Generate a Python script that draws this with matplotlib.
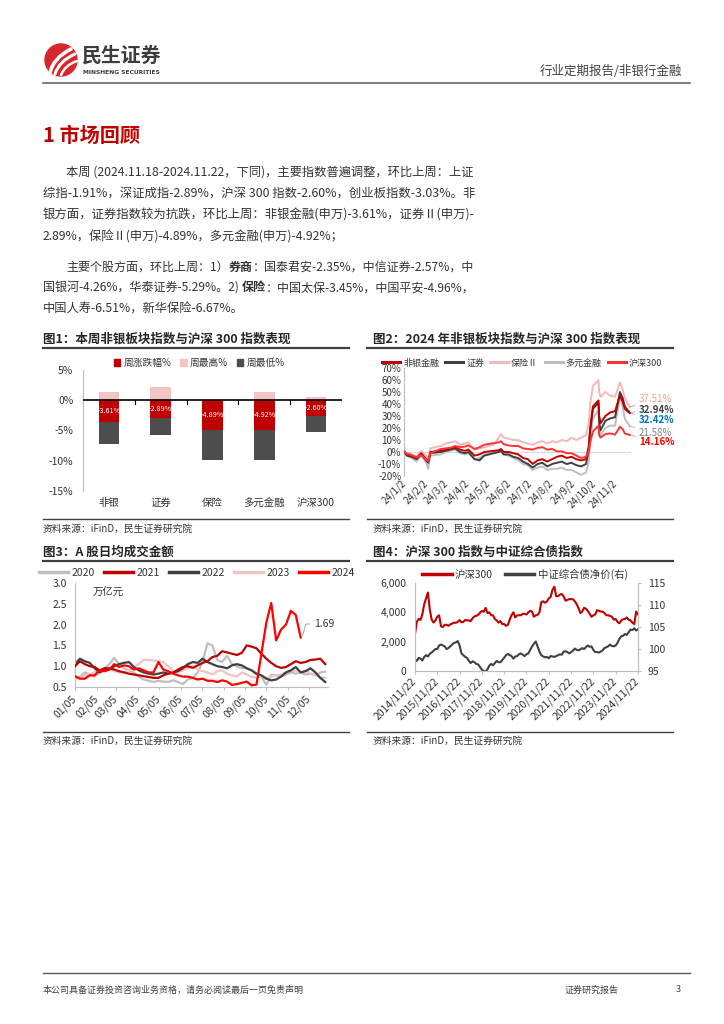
import matplotlib
matplotlib.use('Agg')
import matplotlib.pyplot as plt
from matplotlib.patches import Circle, Rectangle, PathPatch
from matplotlib.path import Path
from matplotlib.lines import Line2D
import pandas as pd
import numpy as np

plt.rcParams['font.family'] = ['Noto Sans CJK SC', 'DejaVu Sans']
plt.rcParams['axes.unicode_minus'] = False

# ---------------- data ----------------
# Chart 1
c1_cats = ['非银', '证券', '保险', '多元金融', '沪深300']
c1_chg = [-3.61, -2.89, -4.89, -4.92, -2.60]
c1_high = [1.3, 2.2, 0.0, 1.3, 0.5]
c1_low = [-7.2, -5.8, -9.8, -9.9, -5.2]
c1_legend = ['周涨跌幅%', '周最高%', '周最低%']

# Chart 2 (cumulative change %, 2024)
c2_dates = ['2024-01-02', '2024-01-05', '2024-01-12', '2024-01-19', '2024-01-26', '2024-02-02',
            '2024-02-05', '2024-02-08', '2024-02-23', '2024-03-01', '2024-03-08', '2024-03-15',
            '2024-03-22', '2024-03-29', '2024-04-03', '2024-04-12', '2024-04-19', '2024-04-26',
            '2024-05-10', '2024-05-17', '2024-05-20', '2024-05-24', '2024-05-31', '2024-06-07',
            '2024-06-14', '2024-06-21', '2024-06-28', '2024-07-05', '2024-07-12', '2024-07-19',
            '2024-07-26', '2024-08-02', '2024-08-09', '2024-08-16', '2024-08-23', '2024-08-30',
            '2024-09-06', '2024-09-13', '2024-09-20', '2024-09-24', '2024-09-26', '2024-09-30',
            '2024-10-08', '2024-10-09', '2024-10-11', '2024-10-18', '2024-10-25', '2024-11-01',
            '2024-11-08', '2024-11-12', '2024-11-15', '2024-11-22']
c2_feiyin = [0, -2, -3, -5, -1, -6, -8, 0, 1, 2, 3, 4, 2, 1, 2, -3, -2, 0, 1, 1.5, 2.5, 0, 0, -1,
             -2, -5, -6, -10, -7, -6, -8, -6, -4, -3, -5, -4, -6, -7, -6, 5, 20, 38, 43, 30, 24, 30,
             33, 34, 47, 42, 36, 32.42]
c2_zhengquan = [0, -3, -4, -6, -2, -7, -9, -1, 0, 1, 2, 3, 0, -1, 0, -6, -7, -3, -1, 0, 1, -2, -2,
                -4, -5, -8, -10, -13, -10, -9, -12, -10, -9, -8, -10, -9, -11, -12, -10, 2, 18, 36,
                41, 25, 18, 26, 28, 29, 50, 45, 38, 32.94]
c2_baoxian = [0, -1, -2, -4, 1, -3, -6, 3, 5, 7, 8, 9, 6, 7, 8, 2, 3, 4, 6, 12, 15, 12, 11, 10, 10,
              8, 7, 6, 8, 9, 7, 9, 8, 10, 9, 12, 10, 12, 14, 25, 40, 55, 60, 50, 46, 50, 47, 46,
              58, 52, 45, 37.51]
c2_duoyuan = [0, -3, -5, -8, -3, -9, -14, -3, -2, 0, 1, 2, -1, -2, -1, -6, -5, -2, 0, 1, 2, -2,
              -3, -5, -7, -10, -11, -15, -13, -12, -15, -14, -14, -13, -15, -15, -17, -19, -17, -8,
              8, 28, 35, 20, 14, 20, 22, 22, 45, 38, 28, 21.58]
c2_hs300 = [0, -1.5, -2.5, -4.5, -2.5, -6.5, -7.5, -1, 2.5, 3, 3.5, 5, 4, 4.5, 5.5, 2.5, 4, 6,
            7.5, 8, 9, 6.5, 5.5, 5, 5, 3, 2.5, 2, 3.5, 4, 2, 2.5, 0.5, 0.5, -1, -1, -3, -5, -4,
            0.5, 8, 17, 22, 14, 12, 15, 15.5, 14.5, 21, 19, 15.5, 14.16]
c2_names = ['非银金融', '证券', '保险Ⅱ', '多元金融', '沪深300']
c2_ticklabels = ['24/1/2', '24/2/2', '24/3/2', '24/4/2', '24/5/2', '24/6/2', '24/7/2', '24/8/2',
                 '24/9/2', '24/10/2', '24/11/2']
c2_tickdates = ['2024-01-02', '2024-02-02', '2024-03-02', '2024-04-02', '2024-05-02', '2024-06-02',
                '2024-07-02', '2024-08-02', '2024-09-02', '2024-10-02', '2024-11-02']

# Chart 3 (weekly avg turnover, trillion yuan)
c3_2020 = [0.68, 0.75, 0.85, 0.80, 0.75, 0.85, 0.95, 1.05, 1.20, 1.05, 0.95, 0.90, 0.85, 0.75,
           0.68, 0.65, 0.62, 0.65, 0.63, 0.62, 0.66, 0.62, 0.57, 0.68, 0.72, 0.85, 1.10, 1.55,
           1.50, 1.15, 1.10, 1.25, 1.05, 1.00, 0.95, 0.95, 0.90, 0.80, 0.75, 0.55, 0.80, 0.78,
           0.75, 0.80, 0.85, 0.82, 0.85, 0.80, 0.82, 0.78, 0.85, 0.87]
c3_2021 = [1.00, 1.12, 1.05, 1.00, 0.98, 0.90, 0.95, 0.95, 0.92, 0.88, 0.85, 0.82, 0.80, 0.78,
           0.76, 0.74, 0.72, 0.72, 0.78, 0.82, 0.84, 0.92, 0.98, 1.00, 0.96, 1.02, 1.08, 1.12,
           1.22, 1.25, 1.36, 1.33, 1.30, 1.27, 1.32, 1.50, 1.47, 1.43, 1.30, 1.18, 1.08, 1.00,
           0.96, 0.98, 1.05, 1.12, 1.08, 1.10, 1.15, 1.16, 1.18, 1.05]
c3_2022 = [1.05, 1.18, 1.12, 1.08, 0.95, 0.85, 0.90, 0.92, 1.00, 1.05, 1.08, 1.10, 0.98, 0.90,
           0.85, 0.82, 0.80, 0.82, 0.85, 0.82, 0.85, 0.88, 0.95, 1.05, 1.10, 1.08, 1.18, 1.10,
           1.05, 1.00, 0.98, 0.95, 1.02, 1.05, 1.02, 0.95, 0.90, 0.82, 0.78, 0.70, 0.66, 0.68,
           0.75, 0.85, 0.90, 0.98, 0.85, 0.88, 0.95, 0.85, 0.72, 0.62]
c3_2023 = [0.70, 0.72, 0.78, 0.80, 0.85, 0.90, 0.88, 0.92, 0.88, 0.85, 0.85, 0.90, 0.98, 1.05,
           1.15, 1.15, 1.14, 1.12, 1.10, 1.00, 0.90, 0.85, 0.90, 0.95, 1.00, 0.92, 0.88, 0.85,
           0.80, 0.88, 0.90, 0.82, 0.78, 0.75, 0.85, 0.80, 0.74, 0.72, 0.76, 0.72, 0.75, 0.78,
           0.80, 0.85, 0.90, 0.88, 0.85, 0.90, 0.82, 0.80, 0.72, 0.72]
c3_2024 = [0.76, 0.70, 0.70, 0.78, 0.78, 0.90, 0.88, 0.92, 1.05, 0.98, 1.02, 1.00, 0.92, 0.95,
           0.90, 0.85, 0.85, 1.10, 0.92, 0.88, 0.82, 0.78, 0.75, 0.75, 0.72, 0.68, 0.70, 0.65,
           0.65, 0.62, 0.66, 0.63, 0.55, 0.57, 0.60, 0.63, 0.54, 0.56, 1.30, 2.05, 2.52, 1.62,
           1.88, 2.00, 2.33, 2.23, 1.69]
c3_years = ['2020', '2021', '2022', '2023', '2024']
c3_ticklabels = ['01/05', '02/05', '03/05', '04/05', '05/05', '06/05', '07/05', '08/05', '09/05',
                 '10/05', '11/05', '12/05']
c3_tickdays = [5, 36, 64, 95, 125, 156, 186, 217, 248, 278, 309, 339]

# Chart 4 (monthly, 2014/11/22 - 2024/11/22)
c4_hs300 = [2530, 3350,
            3560, 3480, 3870, 4550, 4950, 5350, 4200, 3500, 3300, 3450, 3700, 3800,
            3050, 3000, 3150, 3150, 3080, 3180, 3230, 3300, 3280, 3350, 3470, 3320,
            3350, 3480, 3450, 3450, 3400, 3600, 3720, 3760, 3830, 3980, 4100, 4030,
            4300, 3950, 4000, 3800, 3800, 3550, 3450, 3300, 3400, 3200, 3200, 3080,
            3150, 3520, 3800, 4000, 3650, 3800, 3800, 3800, 3900, 3900, 3850, 4000,
            4100, 4050, 3700, 3800, 3830, 4000, 4700, 4750, 4650, 4750, 4950, 5050,
            5550, 5750, 5100, 5100, 5200, 5250, 5100, 4800, 4850, 4900, 4900, 4900,
            4750, 4550, 4300, 3950, 4050, 4300, 4250, 4100, 3900, 3700, 3800, 3850,
            4150, 4100, 4050, 4050, 3950, 3800, 3800, 3750, 3700, 3500, 3550, 3350,
            3250, 3450, 3520, 3550, 3650, 3500, 3450, 3300, 3200, 4050, 3866]
c4_bond = [97.6, 97.3,
           98.0, 97.8, 97.4, 98.2, 98.6, 98.3, 98.9, 99.2, 99.6, 100.0, 100.0, 100.8,
           101.0, 100.8, 100.6, 100.0, 100.2, 100.6, 101.0, 101.4, 101.5, 101.8, 100.8, 99.0,
           98.6, 98.2, 98.0, 97.3, 96.8, 97.2, 97.0, 96.6, 96.5, 95.9, 95.3, 95.0,
           94.9, 95.4, 96.2, 96.6, 96.3, 96.8, 97.3, 97.0, 97.0, 97.5, 98.0, 98.6,
           98.9, 98.6, 98.4, 97.8, 98.3, 98.4, 98.8, 99.0, 98.7, 98.4, 98.8, 99.0,
           99.8, 100.6, 101.2, 101.7, 100.6, 99.4, 98.6, 98.3, 98.1, 98.2, 97.9, 98.4,
           98.3, 98.2, 98.4, 98.6, 98.8, 98.7, 99.4, 99.5, 99.3, 99.0, 99.3, 99.6,
           100.1, 99.8, 99.7, 99.9, 100.2, 100.0, 100.4, 100.8, 100.5, 100.6, 99.8, 99.3,
           99.3, 99.2, 99.4, 99.7, 100.2, 100.4, 100.6, 101.0, 100.7, 100.6, 100.8, 101.4,
           102.3, 102.9, 103.0, 103.4, 103.2, 103.8, 104.4, 104.3, 104.7, 104.2, 104.5]
c4_names = ['沪深300', '中证综合债净价(右)']
c4_ticklabels = ['2014/11/22', '2015/11/22', '2016/11/22', '2017/11/22', '2018/11/22', '2019/11/22',
                 '2020/11/22', '2021/11/22', '2022/11/22', '2023/11/22', '2024/11/22']

# Text
para1 = ['本周 (2024.11.18-2024.11.22，下同)，主要指数普遍调整，环比上周：上证',
         '综指-1.91%，深证成指-2.89%，沪深 300 指数-2.60%，创业板指数-3.03%。非',
         '银方面，证券指数较为抗跌，环比上周：非银金融(申万)-3.61%，证券Ⅱ(申万)-',
         '2.89%，保险Ⅱ(申万)-4.89%，多元金融(申万)-4.92%；']
para2 = [[('主要个股方面，环比上周：1）', False), ('券商', True), ('：国泰君安-2.35%，中信证券-2.57%，中', False)],
         [('国银河-4.26%，华泰证券-5.29%。2) ', False), ('保险', True), ('：中国太保-3.45%，中国平安-4.96%，', False)],
         [('中国人寿-6.51%，新华保险-6.67%。', False)]]

# ---------------- figure ----------------
W, H = 724, 1024
fig = plt.figure(figsize=(W / 100, H / 100), dpi=100)
fig.patch.set_facecolor('white')
bg = fig.add_axes([0, 0, 1, 1])
bg.set_xlim(0, W)
bg.set_ylim(H, 0)
bg.axis('off')
renderer = fig.canvas.get_renderer()
TXT = '#333333'
DARK = '#262626'


def px_axes(l, t, r, b):
    a = fig.add_axes([l / W, 1 - b / H, (r - l) / W, (b - t) / H])
    a.patch.set_alpha(0)
    return a


def draw_segs(segs, x0, y, fs, target=None, color=TXT, **kw):
    objs = []
    x = x0
    for s, b in segs:
        t = bg.text(x, y, s, fontsize=fs, fontweight='bold' if b else 'normal', color=color,
                    va='center', ha='left', **kw)
        objs.append(t)
        x += t.get_window_extent(renderer).width
    f2 = fs
    if target:
        f2 = fs * target / (x - x0)
        x = x0
        for t in objs:
            t.set_fontsize(f2)
            t.set_x(x)
            x += t.get_window_extent(renderer).width
    return f2


# header
bg.add_patch(Circle((61, 60), 16, color='#D9262C'))
for (p0, c, p1, lw) in [((50, 73), (53, 58), (71, 49), 2.6), ((55, 74), (59, 61), (75, 54), 2.2),
                        ((61, 75), (65, 65), (77, 61), 1.8)]:
    bg.add_patch(PathPatch(Path([p0, c, p1], [Path.MOVETO, Path.CURVE3, Path.CURVE3]),
                           fc='none', ec='white', lw=lw, capstyle='round'))
draw_segs([('民生证券', True)], 82, 55, 14, target=80, color='#3C3C3C')
draw_segs([('MINSHENG SECURITIES', True)], 83, 72, 5, target=78, color='#3C3C3C', family='DejaVu Sans')
bg.text(682, 71, '行业定期报告/非银行金融', fontsize=9, color='#404040', ha='right', va='center')
bg.plot([43, 690], [83, 83], color='#595959', lw=1.1)

# section title and text
bg.text(43, 136, '1 市场回顾', fontsize=14.5, fontweight='bold', color='#C00000', va='center')
fitted = []
ys1 = [172, 193, 215, 237]
for i, line in enumerate(para1[:3]):
    x0 = 66 if i == 0 else 43
    fitted.append(draw_segs([(line, False)], x0, ys1[i], 10, target=474 - x0))
ys2 = [267, 288, 309]
for i, segs in enumerate(para2[:2]):
    x0 = 66 if i == 0 else 43
    fitted.append(draw_segs(segs, x0, ys2[i], 10, target=474 - x0))
fs_body = float(np.mean(fitted))
draw_segs([(para1[3], False)], 43, ys1[3], fs_body)
draw_segs(para2[2], 43, ys2[2], fs_body)

# chart titles / rules / sources
bg.text(43, 339, '图1：本周非银板块指数与沪深 300 指数表现', fontsize=9, fontweight='bold', color=DARK, va='center')
bg.text(373, 339, '图2：2024 年非银板块指数与沪深 300 指数表现', fontsize=9, fontweight='bold', color=DARK, va='center')
bg.text(43, 552, '图3：A 股日均成交金额', fontsize=9, fontweight='bold', color=DARK, va='center')
bg.text(373, 552, '图4：沪深 300 指数与中证综合债指数', fontsize=9, fontweight='bold', color=DARK, va='center')
for (x0, x1, y) in [(43, 349, 348), (367, 673, 348), (43, 349, 561), (367, 673, 561)]:
    bg.plot([x0, x1], [y, y], color='#404040', lw=1.6)
for (x0, x1, y) in [(43, 349, 519), (367, 673, 519), (43, 349, 732), (367, 673, 732)]:
    bg.plot([x0, x1], [y, y], color='#404040', lw=1.0)
for (x0, y) in [(43, 529), (373, 529), (43, 741), (373, 741)]:
    bg.text(x0, y, '资料来源：iFinD，民生证券研究院', fontsize=7, color=TXT, va='center')

# footer
bg.plot([43, 690], [973, 973], color='#595959', lw=1.0)
bg.text(43, 990, '本公司具备证券投资咨询业务资格，请务必阅读最后一页免责声明', fontsize=6.5, color='#404040', va='center')
bg.text(565, 990, '证券研究报告', fontsize=6.5, color='#404040', va='center')
bg.text(678, 990, '3', fontsize=6.5, color='#404040', va='center', ha='center')

# ---------------- Chart 1 ----------------
ax1 = px_axes(83, 370, 342, 491)
xi = np.arange(len(c1_cats))
ax1.bar(xi, c1_low, width=0.4, color='#4D4D4D', zorder=2)
ax1.bar(xi, c1_high, width=0.4, color='#F2C4C4', zorder=2)
ax1.bar(xi, c1_chg, width=0.4, color='#C00000', zorder=3)
ax1.set_xlim(-0.5, 4.5)
ax1.set_ylim(-15, 5)
ax1.axhline(0, color='black', lw=1.2, zorder=4)
for b in np.arange(0.5, 5.0, 1.0):
    ax1.plot([b, b], [0, -0.55], color='black', lw=0.8, zorder=4)
for i, v in enumerate(c1_chg):
    ax1.text(i, v / 2, f'{v:.2f}%', color='white', ha='center', va='center', fontsize=5.2, zorder=5)
ax1.set_yticks([5, 0, -5, -10, -15])
ax1.set_yticklabels(['5%', '0%', '-5%', '-10%', '-15%'])
ax1.set_xticks(xi)
ax1.set_xticklabels(c1_cats)
ax1.tick_params(axis='y', length=0, labelsize=7.5, labelcolor=TXT, pad=7)
ax1.tick_params(axis='x', length=0, labelsize=7.5, labelcolor=TXT, pad=5)
for s in ['top', 'right', 'bottom']:
    ax1.spines[s].set_visible(False)
ax1.spines['left'].set_color('#BFBFBF')
h1 = [Rectangle((0, 0), 1, 1, color=c) for c in ['#C00000', '#F2C4C4', '#4D4D4D']]
fig.legend(h1, c1_legend, loc='center', bbox_to_anchor=(199 / W, 1 - 363 / H), ncol=3, frameon=False,
           fontsize=7, handlelength=0.7, handleheight=0.7, handletextpad=0.3, columnspacing=0.9,
           labelcolor=TXT)

# ---------------- Chart 2 ----------------
ax2 = px_axes(404, 368, 631, 476)
d2 = pd.to_datetime(c2_dates)
c2_series = [c2_feiyin, c2_zhengquan, c2_baoxian, c2_duoyuan, c2_hs300]
c2_colors = ['#C00000', '#404040', '#F4B8B8', '#BFBFBF', '#FF3333']
c2_z = [4, 3, 1, 2, 5]
h2 = []
for vals, col, name, z in zip(c2_series, c2_colors, c2_names, c2_z):
    ax2.plot(d2, vals, color=col, lw=1.4, zorder=z)
    h2.append(Line2D([0], [0], color=col, lw=2.2))
ax2.axhline(0, color='#D9D9D9', lw=0.8, zorder=0)
ax2.set_ylim(-20, 70)
ax2.set_yticks(range(-20, 71, 10))
ax2.set_yticklabels([f'{v}%' for v in range(-20, 71, 10)])
ax2.set_xlim(pd.Timestamp('2024-01-01'), pd.Timestamp('2024-11-24'))
ax2.set_xticks(pd.to_datetime(c2_tickdates))
ax2.set_xticklabels(c2_ticklabels, rotation=45, ha='right', va='center', rotation_mode='anchor')
ax2.tick_params(axis='y', length=0, labelsize=7, labelcolor=TXT, pad=2)
ax2.tick_params(axis='x', length=0, labelsize=7, labelcolor=TXT, pad=4)
for s in ['top', 'right', 'bottom']:
    ax2.spines[s].set_visible(False)
ax2.spines['left'].set_color('#BFBFBF')
fig.legend(h2, c2_names, loc='center', bbox_to_anchor=(522 / W, 1 - 363 / H), ncol=5, frameon=False,
           fontsize=6.5, handlelength=2.0, handletextpad=0.3, columnspacing=0.7, labelcolor=TXT)
c2_labels = [(c2_baoxian, 399, '#EFA58C', 'normal'), (c2_zhengquan, 410, '#404040', 'bold'),
             (c2_feiyin, 420, '#0070C0', 'bold'), (c2_duoyuan, 433, '#808080', 'normal'),
             (c2_hs300, 442, '#FF0000', 'bold')]
for vals, ypx, col, fw in c2_labels:
    ax2.annotate(f'{vals[-1]:.2f}%', xy=(d2[-1], vals[-1]), xycoords='data',
                 xytext=(639, H - ypx), textcoords='figure pixels', fontsize=7, color=col,
                 fontweight=fw, va='center', ha='left', annotation_clip=False,
                 arrowprops=dict(arrowstyle='-', color='#A6A6A6', lw=0.6, shrinkA=1, shrinkB=0))

# ---------------- Chart 3 ----------------
ax3 = px_axes(75, 583, 328, 687)
c3_data = [c3_2020, c3_2021, c3_2022, c3_2023, c3_2024]
c3_colors = ['#BFBFBF', '#C00000', '#404040', '#F2C4C4', '#FF0000']
c3_z = [1, 3, 2, 1.5, 5]
h3 = []
for vals, col, z in zip(c3_data, c3_colors, c3_z):
    days = 5 + 7 * np.arange(len(vals))
    ax3.plot(days, vals, color=col, lw=1.6, zorder=z)
    h3.append(Line2D([0], [0], color=col, lw=2.5))
ax3.set_xlim(5, 366)
ax3.set_ylim(0.5, 3.0)
ax3.set_yticks([0.5, 1.0, 1.5, 2.0, 2.5, 3.0])
ax3.set_yticklabels(['0.5', '1.0', '1.5', '2.0', '2.5', '3.0'])
ax3.set_xticks(c3_tickdays)
ax3.set_xticklabels(c3_ticklabels, rotation=45, ha='right', va='center', rotation_mode='anchor')
ax3.tick_params(axis='y', length=0, labelsize=7.5, labelcolor=TXT, pad=6)
ax3.tick_params(axis='x', length=2, color='#BFBFBF', labelsize=7.5, labelcolor=TXT, pad=5)
for s in ['top', 'right']:
    ax3.spines[s].set_visible(False)
ax3.spines['left'].set_color('#BFBFBF')
ax3.spines['bottom'].set_color('#BFBFBF')
ax3.text(0.07, 0.905, '万亿元', transform=ax3.transAxes, fontsize=7.5, color=TXT, va='center')
last_day = 5 + 7 * (len(c3_2024) - 1)
ax3.annotate('1.69', xy=(last_day + 3, c3_2024[-1] + 0.05), xycoords='data',
             xytext=(314, H - 624), textcoords='figure pixels', fontsize=7.5, color=TXT,
             va='center', ha='left', annotation_clip=False,
             arrowprops=dict(arrowstyle='-', color='#A6A6A6', lw=0.7, shrinkA=1, shrinkB=0,
                             connectionstyle='angle,angleA=0,angleB=75,rad=0'))
fig.legend(h3, c3_years, loc='center', bbox_to_anchor=(197 / W, 1 - 573 / H), ncol=5, frameon=False,
           fontsize=7.5, handlelength=2.8, handletextpad=0.3, columnspacing=0.9, labelcolor=TXT)

# ---------------- Chart 4 ----------------
ax4 = px_axes(415, 583, 638, 671)
ax4r = ax4.twinx()
ax4r.patch.set_alpha(0)
d4 = [pd.Timestamp(2014, 11, 22) + pd.DateOffset(months=i) for i in range(len(c4_hs300))]
ax4.plot(d4, c4_hs300, color='#C00000', lw=1.5, zorder=3)
ax4r.plot(d4, c4_bond, color='#404040', lw=1.5, zorder=2)
ax4.set_ylim(0, 6000)
ax4.set_yticks([0, 2000, 4000, 6000])
ax4.set_yticklabels(['0', '2,000', '4,000', '6,000'])
ax4r.set_ylim(95, 115)
ax4r.set_yticks([95, 100, 105, 110, 115])
ax4.set_xlim(d4[0], d4[-1])
ax4.set_xticks([pd.Timestamp(2014 + i, 11, 22) for i in range(11)])
ax4.set_xticklabels(c4_ticklabels, rotation=45, ha='right', va='center', rotation_mode='anchor')
ax4.tick_params(axis='y', length=0, labelsize=7.5, labelcolor=TXT, pad=6)
ax4.tick_params(axis='x', length=2, color='#BFBFBF', labelsize=7.5, labelcolor=TXT, pad=4)
ax4r.tick_params(axis='y', length=2, color='#BFBFBF', labelsize=7.5, labelcolor=TXT, pad=5)
for a in [ax4, ax4r]:
    a.spines['top'].set_visible(False)
    for s in ['left', 'right', 'bottom']:
        a.spines[s].set_color('#BFBFBF')
h4 = [Line2D([0], [0], color='#C00000', lw=2.5), Line2D([0], [0], color='#404040', lw=2.5)]
fig.legend(h4, c4_names, loc='center', bbox_to_anchor=(525 / W, 1 - 574 / H), ncol=2, frameon=False,
           fontsize=7.5, handlelength=2.8, handletextpad=0.3, columnspacing=1.2, labelcolor=TXT)

fig.savefig('out.png', dpi=100, facecolor='white')
